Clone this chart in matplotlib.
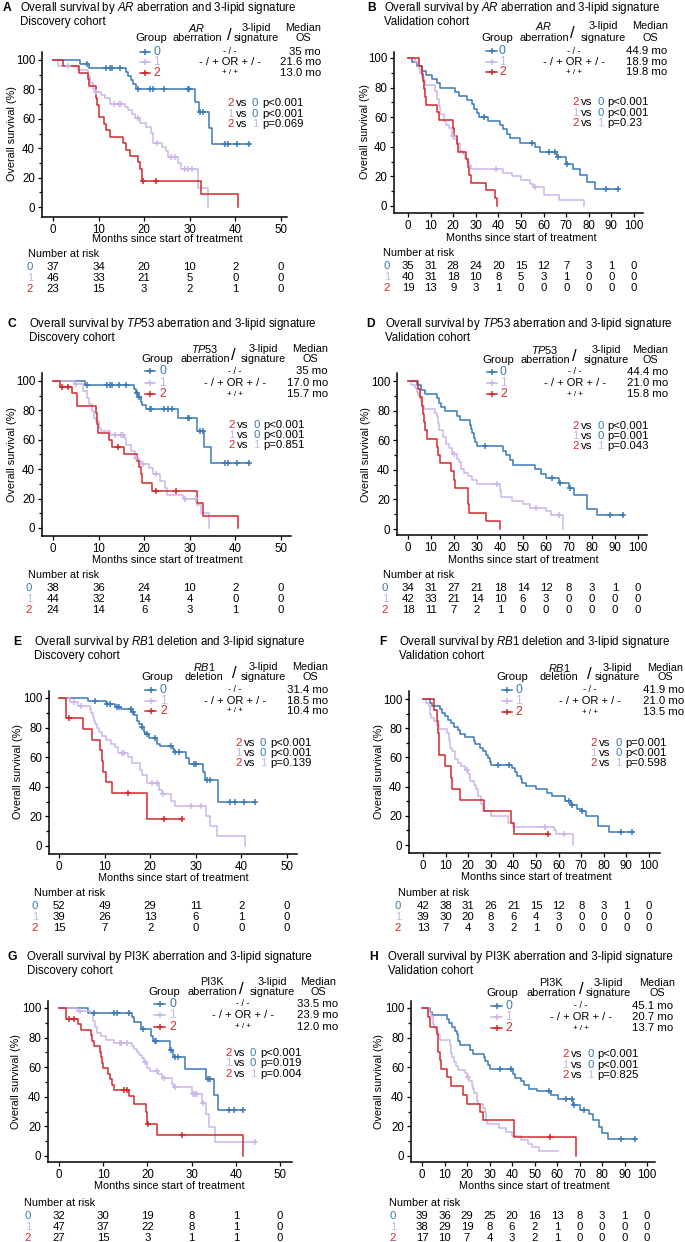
import numpy as np
import matplotlib
matplotlib.use('Agg')
import matplotlib.pyplot as plt

plt.rcParams['font.family'] = ['Liberation Sans', 'DejaVu Sans']
plt.rcParams['mathtext.fontset'] = 'custom'
plt.rcParams['mathtext.rm'] = 'Liberation Sans'
plt.rcParams['mathtext.it'] = 'Liberation Sans:italic'

# ---------------- data ----------------
# each curve: (time, survival %) after each drop, censor times, end time
# Panel A - AR, discovery
A0_steps = [(5.9, 97.3), (7.9, 94.6), (16.0, 91.9), (16.5, 89.2), (17.1, 86.5), (17.6, 83.8),
            (18.2, 80.5), (31.1, 71.7), (32.0, 64.4), (34.3, 53.6), (34.8, 43.0)]
A0_cens = [7.5, 11.6, 12.4, 13.0, 14.8, 18.6, 21.3, 22.0, 24.4, 29.5, 29.8, 32.3, 32.9,
           37.7, 38.4, 40.3, 43.0]
A1_steps = [(1.2, 95.7), (5.5, 93.5), (7.6, 88.9), (8.2, 84.6), (8.8, 80.4), (9.2, 78.3),
            (10.5, 76.1), (11.5, 73.9), (12.4, 70.4), (15.7, 68.2), (16.4, 65.9), (17.3, 63.3),
            (18.0, 60.8), (19.0, 57.2), (20.4, 54.7), (21.4, 50.2), (22.0, 43.5), (24.0, 41.0),
            (24.7, 38.4), (25.2, 34.2), (27.5, 29.9), (28.0, 25.6), (31.8, 12.7), (34.1, 0)]
A1_cens = [3.3, 9.4, 13.3, 14.4, 15.0, 18.6, 22.8, 25.8, 26.8, 29.0, 29.7, 30.5]
A2_steps = [(2.2, 95.7), (5.8, 91.3), (7.6, 87.0), (8.0, 82.6), (9.4, 74.0), (9.6, 69.6),
            (10.1, 60.9), (11.1, 56.5), (11.7, 52.2), (12.5, 47.8), (15.4, 43.5), (16.0, 39.1),
            (16.8, 34.8), (18.6, 30.4), (19.0, 26.1), (19.6, 17.4), (32.5, 8.7), (40.6, 0)]
A2_cens = [19.8, 22.5]
A_ends = [43.0, 34.1, 40.6]

# Panel B - AR, validation
B0_steps = [(1.8, 97.1), (4.0, 94.3), (6.2, 91.4), (8.1, 88.6), (10.6, 85.7), (12.8, 82.9),
            (14.3, 80.0), (20.9, 77.1), (22.4, 74.3), (26.0, 71.4), (28.2, 68.6), (29.0, 65.7),
            (30.4, 62.9), (31.5, 60.4), (35.6, 57.5), (40.7, 54.6), (42.2, 51.7), (43.7, 48.8),
            (45.1, 45.9), (49.6, 42.8), (56.2, 39.8), (58.4, 36.5), (66.0, 33.0), (70.1, 28.4),
            (73.1, 24.7), (76.0, 21.0), (79.0, 16.5), (82.6, 11.5)]
B0_cens = [33.8, 55.0, 62.5, 65.0, 66.2, 70.5, 87.5, 93.0]
B1_steps = [(3.0, 97.5), (4.5, 95.0), (5.0, 92.5), (5.5, 90.0), (6.0, 87.5), (7.0, 85.0),
            (7.5, 82.0), (12.0, 77.5), (13.0, 72.5), (13.5, 67.5), (14.0, 62.5), (16.0, 57.5),
            (17.0, 55.0), (18.0, 52.5), (19.5, 47.5), (20.5, 45.0), (21.5, 42.5), (23.0, 37.5),
            (24.5, 35.0), (25.0, 32.5), (26.0, 30.0), (27.0, 27.5), (28.0, 25.0), (42.0, 22.5),
            (46.0, 20.0), (50.0, 17.5), (54.0, 15.0), (55.5, 12.9), (60.0, 7.5), (67.0, 3.8),
            (78.0, 0)]
B1_cens = [20.0, 39.0, 56.0]
B2_steps = [(5.0, 94.7), (6.0, 89.5), (6.5, 84.2), (7.0, 78.9), (7.5, 73.7), (8.0, 68.4),
            (13.0, 63.2), (13.5, 57.9), (20.0, 52.6), (20.5, 47.4), (21.5, 42.1), (22.0, 36.8),
            (25.5, 31.6), (26.5, 26.3), (27.0, 21.1), (28.0, 15.8), (34.5, 10.5), (38.5, 5.3),
            (39.5, 0)]
B2_cens = []
B_ends = [93.5, 78.0, 39.5]

# Panel C - TP53, discovery
C0_steps = [(7.0, 97.4), (17.8, 94.6), (18.3, 91.8), (18.7, 89.0), (19.2, 86.0), (19.6, 83.5),
            (20.4, 81.0), (27.5, 74.5), (31.5, 66.2), (33.2, 55.2), (34.7, 44.1)]
C0_cens = [7.5, 11.8, 12.4, 13.0, 14.5, 16.0, 18.4, 18.8, 21.2, 21.5, 24.4, 25.3, 26.0,
           29.5, 29.8, 32.2, 32.8, 37.7, 38.4, 40.3, 43.0]
C1_steps = [(4.5, 97.7), (6.5, 93.2), (7.5, 88.6), (8.0, 84.1), (8.5, 79.5), (9.0, 75.0),
            (9.5, 72.7), (10.0, 68.2), (10.5, 65.9), (12.5, 63.6), (15.5, 61.4), (16.0, 56.8),
            (17.0, 52.3), (18.0, 47.7), (18.8, 45.5), (19.3, 43.2), (21.0, 40.9), (22.0, 36.4),
            (23.5, 31.8), (24.5, 27.3), (25.0, 22.7), (28.5, 20.0), (31.5, 15.9), (32.5, 10.2),
            (34.3, 0)]
C1_cens = [5.0, 13.5, 14.9, 15.3, 18.3, 19.8, 22.5, 29.0, 31.4]
C2_steps = [(1.5, 95.8), (4.2, 91.7), (5.3, 83.3), (9.4, 78.3), (9.6, 71.0), (9.8, 64.3),
            (12.2, 59.7), (13.0, 55.3), (15.6, 50.0), (18.5, 45.6), (18.8, 41.2), (19.2, 36.8),
            (19.5, 30.5), (21.8, 25.5), (31.6, 16.9), (32.8, 8.5), (40.6, 0)]
C2_cens = [2.0, 3.3, 14.2, 22.5, 27.0]
C_ends = [43.0, 34.3, 40.6]

# Panel D - TP53, validation
D0_steps = [(3.9, 97.1), (5.5, 94.1), (7.3, 91.2), (12.4, 88.2), (13.6, 85.3), (14.5, 82.4),
            (16.0, 79.4), (21.1, 76.5), (22.5, 73.5), (26.9, 70.6), (27.6, 67.6), (28.0, 64.7),
            (28.5, 61.8), (29.0, 58.8), (30.0, 55.9), (41.4, 52.8), (42.5, 49.7), (44.3, 46.6),
            (45.5, 43.5), (55.0, 40.4), (58.0, 37.3), (60.0, 34.2), (65.5, 31.1), (70.0, 27.5),
            (72.0, 22.8), (77.8, 13.5), (82.1, 9.3)]
D0_cens = [33.5, 62.8, 66.3, 70.6, 88.0, 93.5]
D1_steps = [(1.5, 97.6), (3.0, 95.2), (4.0, 92.9), (4.5, 90.5), (5.0, 88.1), (5.5, 85.7),
            (6.0, 83.3), (7.0, 81.0), (11.6, 78.6), (12.4, 76.2), (13.0, 71.4), (13.5, 66.7),
            (15.0, 61.9), (16.5, 57.1), (18.0, 54.8), (19.0, 50.6), (21.5, 47.6), (22.0, 45.2),
            (23.0, 40.5), (24.5, 38.1), (26.0, 35.7), (28.0, 33.3), (30.0, 30.2), (39.8, 26.2),
            (40.5, 21.7), (45.0, 19.0), (50.0, 16.7), (53.0, 14.4), (60.0, 11.9), (62.0, 9.3),
            (67.2, 0)]
D1_cens = [20.0, 38.5, 55.5, 65.5]
D2_steps = [(4.4, 94.4), (5.0, 88.9), (6.0, 83.3), (6.5, 77.8), (7.0, 72.2), (7.6, 66.7),
            (8.3, 61.1), (12.8, 55.6), (13.0, 50.0), (13.8, 44.4), (18.9, 38.9), (20.0, 33.3),
            (20.5, 27.8), (26.0, 22.2), (26.2, 16.7), (26.5, 11.1), (33.7, 5.6), (40.1, 0)]
D2_cens = []
D_ends = [93.5, 67.2, 40.1]

# Panel E - RB1, discovery
E0_steps = [(6.4, 98.1), (10.2, 96.2), (12.3, 94.2), (13.5, 92.3), (16.0, 90.4), (16.5, 88.5),
            (17.0, 84.6), (17.6, 82.7), (18.1, 80.1), (18.6, 76.9), (18.9, 75.4), (19.8, 73.1),
            (21.4, 69.2), (22.2, 67.3), (24.9, 65.4), (25.2, 63.5), (27.8, 59.6), (28.4, 55.1),
            (31.6, 50.0), (32.1, 44.6), (34.9, 29.5)]
E0_cens = [7.8, 10.5, 11.2, 12.8, 13.1, 15.8, 16.2, 18.3, 19.2, 21.1, 24.5, 25.5, 26.3,
           29.7, 30.1, 32.5, 33.1, 37.6, 38.7, 40.5, 43.0]
E1_steps = [(2.5, 97.4), (4.2, 94.9), (6.7, 92.3), (7.1, 89.7), (7.4, 87.2), (7.7, 84.6),
            (8.0, 82.1), (8.4, 79.5), (8.8, 76.9), (9.5, 74.4), (10.3, 71.8), (11.5, 69.2),
            (12.3, 66.7), (13.0, 62.8), (15.2, 60.3), (16.1, 56.0), (17.7, 51.5), (18.3, 48.0),
            (19.2, 42.4), (22.0, 37.8), (22.5, 35.0), (24.5, 30.1), (25.5, 27.0), (32.2, 20.5),
            (33.1, 13.5), (34.7, 6.8), (40.8, 0)]
E1_cens = [3.2, 4.8, 13.8, 14.2, 20.3, 21.4, 22.9, 28.9, 31.2]
E2_steps = [(1.6, 86.7), (5.3, 79.0), (7.2, 71.8), (8.9, 65.0), (9.5, 57.5), (9.7, 50.3),
            (10.2, 43.1), (11.6, 36.0), (19.2, 18.0)]
E2_cens = [2.3, 15.2, 23.0, 27.0]
E_ends = [43.0, 40.8, 27.0]

# Panel F - RB1, validation
F0_steps = [(3.2, 97.6), (4.0, 95.2), (7.6, 92.9), (8.5, 90.5), (9.6, 88.1), (11.0, 85.7),
            (12.5, 83.3), (13.5, 81.0), (15.5, 78.6), (16.3, 76.2), (18.5, 73.8), (22.5, 71.4),
            (23.0, 69.0), (25.0, 66.7), (26.5, 64.3), (28.0, 61.9), (28.8, 59.5), (29.5, 57.1),
            (30.0, 54.8), (39.5, 52.4), (40.5, 50.0), (41.7, 47.6), (43.5, 45.2), (44.0, 42.8),
            (45.5, 40.5), (50.0, 38.1), (55.0, 35.7), (57.0, 33.3), (63.0, 29.8), (65.3, 27.1),
            (68.0, 25.0), (70.2, 23.5), (72.0, 19.8), (77.5, 12.8), (82.3, 8.9)]
F0_cens = [33.4, 38.2, 64.8, 65.8, 70.5, 87.4, 92.5]
F1_steps = [(1.5, 97.4), (2.5, 94.9), (3.0, 89.7), (3.5, 87.2), (5.0, 84.6), (6.0, 82.1),
            (7.0, 79.5), (10.6, 76.9), (11.3, 71.8), (12.0, 66.7), (13.0, 64.1), (14.3, 59.0),
            (15.5, 56.4), (17.0, 53.8), (18.5, 51.3), (20.0, 48.7), (21.0, 43.6), (22.5, 41.0),
            (23.5, 38.5), (24.5, 33.3), (25.5, 28.2), (26.5, 23.1), (30.0, 19.6), (37.5, 15.4),
            (40.0, 12.2), (58.0, 10.0), (59.0, 7.7), (66.5, 0)]
F1_cens = [19.5, 54.2, 62.6]
F2_steps = [(4.8, 92.3), (6.0, 84.6), (6.7, 76.9), (7.0, 69.2), (7.3, 61.5), (9.6, 53.8),
            (12.5, 46.2), (13.0, 38.5), (16.5, 30.8), (26.8, 23.1), (39.0, 15.4), (40.3, 7.7)]
F2_cens = [55.5]
F_ends = [93.0, 66.5, 55.5]

# Panel G - PI3K, discovery
G0_steps = [(6.6, 96.9), (16.6, 93.8), (17.0, 90.6), (18.6, 86.0), (20.8, 81.0), (21.2, 78.0),
            (25.0, 71.9), (25.8, 67.0), (28.4, 58.7), (33.3, 52.2), (35.0, 41.0), (36.0, 31.3)]
G0_cens = [8.0, 12.4, 13.2, 15.9, 18.9, 21.8, 22.0, 25.3, 26.2, 27.0, 33.8, 34.1, 38.5,
           39.7, 41.6]
G1_steps = [(4.0, 97.9), (7.2, 95.7), (7.8, 91.5), (8.2, 87.2), (8.6, 83.0), (9.5, 80.9),
            (10.7, 78.7), (12.5, 76.6), (16.5, 74.5), (17.0, 72.3), (17.6, 70.2), (18.0, 68.1),
            (18.8, 66.0), (19.2, 63.8), (20.0, 59.6), (20.5, 57.4), (22.5, 55.3), (23.3, 52.8),
            (25.5, 48.9), (26.0, 46.8), (30.0, 44.7), (30.2, 42.2), (32.3, 35.5), (33.3, 28.4),
            (34.0, 19.3), (35.3, 9.5)]
G1_cens = [4.7, 13.7, 14.0, 15.3, 19.5, 22.1, 23.7, 26.3, 30.4, 30.8, 31.2, 32.5, 44.3]
G2_steps = [(1.6, 92.6), (4.2, 88.9), (5.0, 85.2), (7.3, 81.5), (7.5, 77.8), (8.0, 74.1),
            (9.2, 70.4), (9.5, 66.7), (9.8, 63.0), (10.0, 59.3), (11.0, 55.6), (11.5, 51.9),
            (12.0, 48.1), (12.5, 44.4), (15.8, 40.7), (17.0, 35.0), (19.6, 29.6), (19.8, 25.9),
            (20.0, 21.3), (22.2, 14.1), (41.6, 0)]
G2_cens = [2.3, 3.4, 14.6, 15.4, 20.2, 27.9]
G_ends = [41.6, 44.3, 41.6]

# Panel H - PI3K, validation
H0_steps = [(3.7, 97.4), (4.4, 95.2), (11.1, 92.3), (12.0, 89.7), (13.5, 87.2), (14.5, 84.6),
            (15.5, 82.1), (16.0, 77.4), (17.0, 75.0), (21.5, 71.8), (22.5, 69.2), (27.5, 66.7),
            (28.0, 64.1), (29.5, 61.5), (30.0, 58.5), (40.5, 55.4), (41.5, 53.0), (44.0, 50.5),
            (45.5, 47.9), (47.5, 45.4), (51.0, 43.9), (57.5, 41.4), (60.5, 38.3), (67.0, 34.4),
            (70.0, 31.0), (74.0, 28.2), (76.0, 24.5), (78.5, 19.7), (80.0, 15.5), (82.5, 11.3)]
H0_cens = [34.5, 39.5, 56.5, 64.0, 66.5, 67.5, 72.0, 88.5, 94.5]
H1_steps = [(3.0, 97.4), (4.0, 94.7), (5.0, 89.5), (5.5, 86.8), (6.0, 84.2), (7.0, 81.6),
            (8.0, 78.5), (12.6, 75.0), (13.0, 69.5), (13.5, 66.8), (14.0, 63.6), (15.0, 61.0),
            (16.0, 58.4), (19.0, 55.8), (20.0, 53.2), (21.0, 50.6), (22.0, 47.9), (22.5, 45.3),
            (23.0, 42.7), (24.5, 37.5), (25.0, 34.8), (27.0, 32.2), (28.0, 29.5), (28.5, 24.3),
            (29.0, 21.7), (34.0, 18.9), (37.5, 16.3), (40.0, 13.7), (44.0, 11.0), (47.0, 8.4),
            (49.0, 5.8), (52.0, 3.2)]
H1_cens = [20.5]
H2_steps = [(2.6, 94.1), (3.5, 87.0), (6.5, 82.4), (7.0, 76.5), (7.3, 70.6), (7.8, 64.7),
            (8.3, 58.8), (11.1, 53.2), (13.0, 47.1), (18.2, 41.2), (20.0, 35.3), (25.9, 29.4),
            (27.0, 24.5), (40.7, 13.0), (68.5, 0)]
H2_cens = [57.0]
H_ends = [95.0, 60.5, 68.5]

# headers, medians, p-values, numbers at risk
genes = ['AR', 'AR', 'TP53', 'TP53', 'RB1', 'RB1', 'PI3K', 'PI3K']
gene_italic = [True, True, True, True, True, True, False, False]
alterations = ['aberration', 'aberration', 'aberration', 'aberration',
               'deletion', 'deletion', 'aberration', 'aberration']
cohorts = ['Discovery', 'Validation'] * 4
medians = [['35 mo', '21.6 mo', '13.0 mo'], ['44.9 mo', '18.9 mo', '19.8 mo'],
           ['35 mo', '17.0 mo', '15.7 mo'], ['44.4 mo', '21.0 mo', '15.8 mo'],
           ['31.4 mo', '18.5 mo', '10.4 mo'], ['41.9 mo', '21.0 mo', '13.5 mo'],
           ['33.5 mo', '23.9 mo', '12.0 mo'], ['45.1 mo', '20.7 mo', '13.7 mo']]
pvalues = [['p<0.001', 'p<0.001', 'p=0.069'], ['p<0.001', 'p<0.001', 'p=0.23'],
           ['p<0.001', 'p<0.001', 'p=0.851'], ['p<0.001', 'p=0.001', 'p=0.043'],
           ['p<0.001', 'p<0.001', 'p=0.139'], ['p=0.001', 'p<0.001', 'p=0.598'],
           ['p<0.001', 'p=0.019', 'p=0.004'], ['p<0.001', 'p<0.001', 'p=0.825']]
comparisons = [('2', '0'), ('1', '0'), ('2', '1')]
descriptors = ['- / -', '- / + OR + / -', '+ / +']
A_risk = [[37, 34, 20, 10, 2, 0], [46, 33, 21, 5, 0, 0], [23, 15, 3, 2, 1, 0]]
B_risk = [[35, 31, 28, 24, 20, 15, 12, 7, 3, 1, 0], [40, 31, 18, 10, 8, 5, 3, 1, 0, 0, 0],
          [19, 13, 9, 3, 1, 0, 0, 0, 0, 0, 0]]
C_risk = [[38, 36, 24, 10, 2, 0], [44, 32, 14, 4, 0, 0], [24, 14, 6, 3, 1, 0]]
D_risk = [[34, 31, 27, 21, 18, 14, 12, 8, 3, 1, 0], [42, 33, 21, 14, 10, 6, 3, 0, 0, 0, 0],
          [18, 11, 7, 2, 1, 0, 0, 0, 0, 0, 0]]
E_risk = [[52, 49, 29, 11, 2, 0], [39, 26, 13, 6, 1, 0], [15, 7, 2, 0, 0, 0]]
F_risk = [[42, 38, 31, 26, 21, 15, 12, 8, 3, 1, 0], [39, 30, 20, 8, 6, 4, 3, 0, 0, 0, 0],
          [13, 7, 4, 3, 2, 1, 0, 0, 0, 0, 0]]
G_risk = [[32, 30, 19, 8, 1, 0], [47, 37, 22, 8, 1, 0], [27, 15, 3, 1, 1, 0]]
H_risk = [[39, 36, 29, 25, 20, 16, 13, 8, 3, 1, 0], [38, 29, 19, 8, 6, 2, 1, 0, 0, 0, 0],
          [17, 10, 7, 4, 3, 2, 1, 0, 0, 0, 0]]

# ---------------- layout (pixel positions in the 685x1242 picture) ----------------
W, H = 685, 1242
COLORS = ['#3b79b7', '#cbb6ea', '#d3292b']

layout = {
    'A': dict(letter=(3, 8), tx=20, ty=(8, 22), x0=53, xe=281, xmax=50, y100=60, y0=207,
              sp=(42, 287, 52, 217), hy=(28, 38), hx=(151, 197, 229, 256, 303), rows=(52, 62, 73),
              leg=(140, 150, 153), descr=230, medr=321, prows=(103, 114, 124), pv=262,
              xl=239, yl=12, nar=(28, 254), gl=30),
    'B': dict(letter=(367, 8), tx=384, ty=(8, 22), x0=408, xe=634, xmax=100, y100=58, y0=206,
              sp=(394, 643, 52, 213), hy=(26, 38), hx=(497, 544, 572, 603, 650), rows=(51, 62, 72),
              leg=(486, 497, 499), descr=574, medr=667, prows=(102, 113, 123), pv=607,
              xl=238, yl=365, nar=(383, 253), gl=387),
    'C': dict(letter=(8, 324), tx=29, ty=(324, 338), x0=53, xe=281, xmax=50, y100=381, y0=528,
              sp=(42, 291, 373, 536), hy=(349, 359), hx=(157, 205, 233, 263, 310), rows=(371, 383, 394),
              leg=(145, 155, 159), descr=235, medr=328, prows=(425, 435, 445), pv=263,
              xl=560, yl=12, nar=(28, 575), gl=29),
    'D': dict(letter=(366, 324), tx=385, ty=(324, 338), x0=408, xe=638, xmax=100, y100=381, y0=529,
              sp=(397, 647, 373, 535), hy=(350, 360), hx=(498, 545, 574, 606, 650), rows=(372, 383, 394),
              leg=(487, 497, 500), descr=575, medr=668, prows=(426, 436, 446), pv=607,
              xl=560, yl=366, nar=(383, 575), gl=385),
    'E': dict(letter=(13, 642), tx=34, ty=(642, 656), x0=59, xe=287, xmax=50, y100=698, y0=846,
              sp=(49, 297, 691, 854), hy=(667, 677), hx=(157, 204, 234, 263, 310), rows=(690, 701, 711),
              leg=(145, 156, 160), descr=235, medr=328, prows=(743, 753, 763), pv=270,
              xl=878, yl=18, nar=(34, 893), gl=35),
    'F': dict(letter=(379, 642), tx=399, ty=(642, 656), x0=423, xe=649, xmax=100, y100=699, y0=845,
              sp=(409, 660, 691, 853), hy=(668, 677), hx=(512, 559, 589, 617, 665), rows=(690, 701, 712),
              leg=(502, 512, 515), descr=590, medr=684, prows=(743, 753, 763), pv=625,
              xl=877, yl=379, nar=(398, 893), gl=398),
    'G': dict(letter=(7, 957), tx=27, ty=(957, 971), x0=59, xe=280, xmax=50, y100=1008, y0=1156,
              sp=(48, 292, 1001, 1162), hy=(982, 992), hx=(164, 212, 241, 272, 318), rows=(1004, 1015, 1027),
              leg=(154, 165, 169), descr=243, medr=338, prows=(1053, 1063, 1074), pv=260,
              xl=1186, yl=16, nar=(24, 1203), gl=28),
    'H': dict(letter=(369, 957), tx=388, ty=(957, 971), x0=422, xe=647, xmax=100, y100=1008, y0=1156,
              sp=(411, 655, 1001, 1162), hy=(983, 993), hx=(502, 551, 581, 608, 657), rows=(1006, 1017, 1028),
              leg=(491, 502, 505), descr=581, medr=673, prows=(1054, 1065, 1075), pv=597,
              xl=1186, yl=379, nar=(389, 1203), gl=393),
}

curves = {
    'A': [(A0_steps, A0_cens), (A1_steps, A1_cens), (A2_steps, A2_cens)],
    'B': [(B0_steps, B0_cens), (B1_steps, B1_cens), (B2_steps, B2_cens)],
    'C': [(C0_steps, C0_cens), (C1_steps, C1_cens), (C2_steps, C2_cens)],
    'D': [(D0_steps, D0_cens), (D1_steps, D1_cens), (D2_steps, D2_cens)],
    'E': [(E0_steps, E0_cens), (E1_steps, E1_cens), (E2_steps, E2_cens)],
    'F': [(F0_steps, F0_cens), (F1_steps, F1_cens), (F2_steps, F2_cens)],
    'G': [(G0_steps, G0_cens), (G1_steps, G1_cens), (G2_steps, G2_cens)],
    'H': [(H0_steps, H0_cens), (H1_steps, H1_cens), (H2_steps, H2_cens)],
}
ends = {'A': A_ends, 'B': B_ends, 'C': C_ends, 'D': D_ends,
        'E': E_ends, 'F': F_ends, 'G': G_ends, 'H': H_ends}
risks = {'A': A_risk, 'B': B_risk, 'C': C_risk, 'D': D_risk,
         'E': E_risk, 'F': F_risk, 'G': G_risk, 'H': H_risk}

fig = plt.figure(figsize=(W / 100, H / 100), dpi=100)


def P(x, y):
    return x / W, 1 - y / H


def ftext(x, y, s, **kw):
    kw.setdefault('va', 'center')
    kw.setdefault('fontsize', 7.8)
    fig.text(*P(x, y), s, **kw)


def draw_curve(ax, steps, cens, end, color):
    t = [0] + [a for a, b in steps] + [end]
    s = [100] + [b for a, b in steps] + [steps[-1][1]]
    ax.step(t, s, where='post', color=color, lw=1.1, zorder=3)
    if cens:
        idx = np.searchsorted([a for a, b in steps], cens, side='right')
        cs = np.array([100] + [b for a, b in steps])[idx]
        ax.plot(cens, cs, '+', color=color, ms=5, mew=1.1, zorder=4)


for i, key in enumerate('ABCDEFGH'):
    L = layout[key]
    gene = genes[i]
    gtxt = r'$\mathit{%s}$' % gene if gene_italic[i] else gene

    # titles
    ftext(L['letter'][0], L['ty'][0], key, fontweight='bold', fontsize=8.7)
    ftext(L['tx'], L['ty'][0], 'Overall survival by %s %s and 3-lipid signature'
          % (gtxt, alterations[i]), fontsize=8.3)
    ftext(L['tx'], L['ty'][1], '%s cohort' % cohorts[i], fontsize=8.3)

    # axes
    xu = (L['xe'] - L['x0']) / L['xmax']
    yu = (L['y0'] - L['y100']) / 100
    spl, spr, spt, spb = L['sp']
    ax = fig.add_axes([spl / W, 1 - spb / H, (spr - spl) / W, (spb - spt) / H])
    ax.set_xlim((spl - L['x0']) / xu, (spr - L['x0']) / xu)
    ax.set_ylim((L['y0'] - spb) / yu, (L['y0'] - spt) / yu)
    for side in ['top', 'right']:
        ax.spines[side].set_visible(False)
    for side in ['left', 'bottom']:
        ax.spines[side].set_linewidth(1.1)
    ax.set_xticks(np.arange(0, L['xmax'] + 1, 10))
    ax.set_yticks(np.arange(0, 101, 20))
    ax.set_yticks(np.arange(10, 100, 20), minor=True)
    ax.tick_params(axis='both', which='major', labelsize=8.3, length=3, width=0.9, pad=2)
    ax.tick_params(axis='y', which='minor', length=2, width=0.9)
    ax.patch.set_alpha(0)

    for g in range(3):
        steps, cens = curves[key][g]
        draw_curve(ax, steps, cens, ends[key][g], COLORS[g])

    # axis labels
    ftext((L['x0'] + L['xe']) / 2, L['xl'], 'Months since start of treatment', ha='center', fontsize=7.8)
    ftext(L['yl'], (L['y100'] + L['y0']) / 2, 'Overall survival (%)', ha='center', rotation=90, fontsize=7.8)

    # header block
    gx, genex, slx, lipx, medx = L['hx']
    hy1, hy2 = L['hy']
    ftext(gx, hy2, 'Group', ha='center', fontsize=8.2)
    ftext(genex, hy1, gtxt, ha='center')
    ftext(genex, hy2, alterations[i], ha='center')
    ftext(slx, (hy1 + hy2) / 2 + 2, '/', ha='center', fontsize=12)
    ftext(lipx, hy1, '3-lipid', ha='center')
    ftext(lipx, hy2, 'signature', ha='center')
    ftext(medx, hy1, 'Median', ha='center')
    ftext(medx, hy2, 'OS', ha='center')

    # legend rows
    lx0, lx1, lab = L['leg']
    for g in range(3):
        y = L['rows'][g]
        fig.add_artist(plt.Line2D([lx0 / W, lx1 / W], [1 - y / H] * 2, color=COLORS[g], lw=1.1))
        fig.add_artist(plt.Line2D([(lx0 + lx1) / 2 / W], [1 - y / H], marker='+', ms=5, mew=1.1,
                                  color=COLORS[g]))
        ftext(lab, y, str(g), color=COLORS[g], fontsize=8.7)
        ftext(L['descr'], y, descriptors[g], ha='center', fontsize=[6.5, 8, 5.8][g])
        ftext(L['medr'], y, medians[i][g], ha='right', fontsize=8.2)

    # comparisons
    pst = L['pv'] - 35
    for k, (a, b) in enumerate(comparisons):
        y = L['prows'][k]
        ftext(pst, y, a, color=COLORS[int(a)], fontsize=8.2)
        ftext(pst + 9, y, 'vs', fontsize=8.2)
        ftext(pst + 25, y, b, color=COLORS[int(b)], fontsize=8.2)
        ftext(L['pv'], y, pvalues[i][k], fontsize=8.2)

    # numbers at risk
    nx, ny = L['nar']
    ftext(nx, ny, 'Number at risk', fontsize=7.8)
    ticks = np.arange(0, L['xmax'] + 1, 10)
    for g in range(3):
        y = ny + 13 + 11 * g
        ftext(L['gl'], y, str(g), color=COLORS[g], ha='center', fontsize=8.2)
        for tk, n in zip(ticks, risks[key][g]):
            ftext(L['x0'] + tk * xu, y, str(n), ha='center', fontsize=8.2)

fig.savefig('out.png', dpi=100)
